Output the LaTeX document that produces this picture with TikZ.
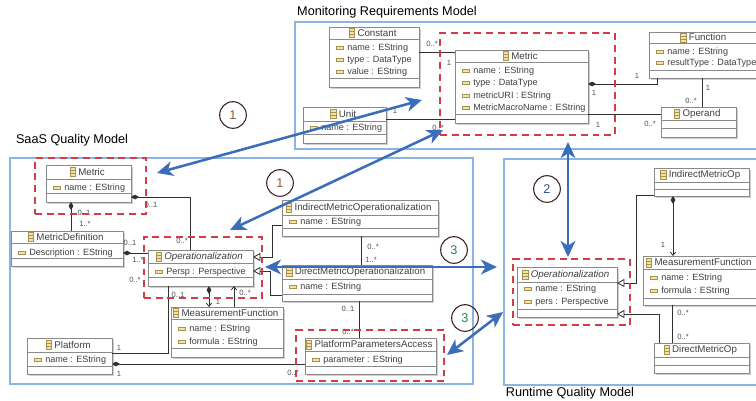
\documentclass[tikz,border=0pt]{standalone}
\usepackage{fontspec}
\setmainfont{Liberation Sans}
\usetikzlibrary{arrows.meta}
\definecolor{framec}{HTML}{8DB3E2}
\definecolor{redc}{HTML}{D23C46}
\definecolor{boxc}{HTML}{8A8A8A}
\definecolor{txtc}{HTML}{404040}
\definecolor{multc}{HTML}{505050}
\definecolor{linec}{HTML}{303030}
\definecolor{bluec}{HTML}{3A6DBA}
\definecolor{iconfill}{HTML}{F3E3A0}
\definecolor{iconline}{HTML}{A89050}
\definecolor{shadowc}{HTML}{CFCFCF}
\definecolor{circc}{HTML}{3A2020}
\definecolor{onec}{HTML}{8A5A2A}
\definecolor{twoc}{HTML}{2B4C9B}
\definecolor{threec}{HTML}{2E8050}
\tikzset{
  frame/.style={draw=framec, line width=0.8pt},
  reddash/.style={draw=redc, line width=1.2pt, dash pattern=on 5.2pt off 3.6pt, rectangle, inner sep=0, outer sep=0},
  clsbox/.style={draw=boxc, fill=white, line width=0.6pt, inner sep=0, outer sep=0, rectangle},
  sepl/.style={draw=boxc, line width=0.6pt},
  hdr/.style={font=\fontsize{7.3}{8}\selectfont, text=txtc, inner sep=0},
  atr/.style={font=\fontsize{6.8}{8}\selectfont, text=txtc, inner sep=0, anchor=west},
  mult/.style={font=\fontsize{5.7}{6}\selectfont, text=multc, inner sep=0},
  mtitle/.style={font=\fontsize{9.5}{11}\selectfont, text=black, inner sep=0},
  conn/.style={draw=linec, line width=0.6pt},
  comp/.style={conn, {Diamond[length=6pt,width=3.6pt]}-},
  compnav/.style={conn, {Diamond[length=6pt,width=3.6pt]}-{Straight Barb[length=2.5pt,width=4pt]}},
  navend/.style={conn, -{Straight Barb[length=2.5pt,width=4pt]}},
  gen/.style={conn, -{Triangle[open,length=5.5pt,width=6pt,fill=white]}},
  bigarrow/.style={draw=bluec, line width=1.9pt, {Stealth[length=12pt,width=11pt,inset=3.5pt]}-{Stealth[length=12pt,width=11pt,inset=3.5pt]}},
  num/.style={circle, draw=circc, line width=0.8pt, minimum size=20pt, inner sep=0, font=\fontsize{9.5}{10}\selectfont},
}
\newcount\attrcnt
\newcommand\clsicon[1]{%
  \draw[draw=iconline, fill=iconfill, line width=0.4pt] ([xshift=-6pt,yshift=-3.2pt]#1.west) rectangle ([xshift=-2pt,yshift=3.2pt]#1.west);
  \draw[draw=iconline, line width=0.4pt] ([xshift=-6pt,yshift=-1.1pt]#1.west) -- ([xshift=-2pt,yshift=-1.1pt]#1.west)
     ([xshift=-6pt,yshift=1.1pt]#1.west) -- ([xshift=-2pt,yshift=1.1pt]#1.west);
}
\newcommand\umlbox[8]{%
  \fill[shadowc] ({#2+1.6},{#3+1.6}) rectangle ({#4+1.6},{#5+1.6});
  \node[clsbox, minimum width={(#4-#2)*0.75pt}, minimum height={(#5-#3)*0.75pt}] (#1) at ({(#2+#4)/2},{(#3+#5)/2}) {};
  \draw[sepl] (#2,#6) -- (#4,#6);
  \draw[sepl] (#2,#7) -- (#4,#7);
  \node[hdr] (#1-t) at ({(#2+#4)/2+3},{(#3+#6)/2}) {#8};
  \clsicon{#1-t}
}
\newcommand\attr[3]{%
  \global\advance\attrcnt by 1
  \draw[draw=iconline, fill=iconfill, line width=0.4pt] ({#1+7},{#2-1.6}) rectangle ({#1+14},{#2+1.6});
  \node[atr] (at\the\attrcnt) at ({#1+18},#2) {#3};
}
\newcommand\redbox[5]{%
  \node[reddash, minimum width={(#4-#2)*0.75pt}, minimum height={(#5-#3)*0.75pt}] (#1) at ({(#2+#4)/2},{(#3+#5)/2}) {};
}
\newcommand\mul[4]{\node[mult] (#1) at (#2,#3) {#4};}
\begin{document}
\begin{tikzpicture}[x=0.75pt,y=-0.75pt]
\useasboundingbox (0,0) rectangle (756,400);
\clip (0,0) rectangle (756,400);

% frames and titles
\draw[frame] (295,22) rectangle (762,149);
\draw[frame] (10,158) rectangle (473,384);
\draw[frame] (504,159) rectangle (762,385);
\node[mtitle] (tmrm) at (387,12) {Monitoring Requirements Model};
\node[mtitle] (tsaas) at (72,140) {SaaS Quality Model};
\node[mtitle] (trt) at (570,393) {Runtime Quality Model};

% ---------- Monitoring Requirements Model ----------
\umlbox{cons}{329}{27}{419}{87}{39}{78}{Constant}
\attr{329}{48}{name : EString}
\attr{329}{60}{type : DataType}
\attr{329}{72}{value : EString}
\umlbox{unit}{303}{107}{386}{143}{121}{134}{Unit}
\attr{303}{128}{name : EString}
\umlbox{met}{455}{50}{588}{123}{62}{114}{Metric}
\attr{455}{71}{name : EString}
\attr{455}{83}{type : DataType}
\attr{455}{96}{metricURI : EString}
\attr{455}{108}{MetricMacroName : EString}
\umlbox{func}{649}{32}{760}{78}{43}{70}{Function}
\attr{649}{52}{name : EString}
\attr{649}{63}{resultType : DataType}
\umlbox{oper}{661}{107}{736}{137}{120}{128}{Operand}

\draw[conn] (cons.east |- 0,52) -- (met.west |- 0,52);
\mul{m1}{432}{44}{0..*}
\mul{m2}{449}{63}{1}
\draw[conn] (unit.east |- 0,119) -- (met.west |- 0,119);
\mul{m3}{395}{111}{1}
\mul{m4}{438}{128}{0..*}
\draw[comp] (met.east |- 0,84) -| (func.south -| 657,0);
\mul{m5}{637}{76}{1}
\mul{m6}{594}{93}{1}
\draw[conn] (met.east |- 0,114) -- (oper.west |- 0,114);
\mul{m7}{598}{125}{1}
\mul{m8}{650}{124}{0..*}
\draw[conn] (func.south -| 702,0) -- (oper.north -| 702,0);
\mul{m9}{708}{88}{1}
\mul{m10}{691}{101}{0..*}

% ---------- SaaS Quality Model ----------
\umlbox{smet}{46}{165}{131}{202}{179}{193}{Metric}
\attr{46}{188}{name : EString}
\umlbox{mdef}{11}{231}{123}{266}{243}{258}{MetricDefinition}
\attr{11}{253}{Description : EString}
\umlbox{sop}{148}{250}{253}{286}{263}{277}{\itshape Operationalization}
\attr{148}{272}{Persp : Perspective}
\umlbox{smf}{171}{307}{283}{357}{319}{348}{MeasurementFunction}
\attr{171}{329}{name : EString}
\attr{171}{342}{formula : EString}
\umlbox{plat}{27}{338}{112}{374}{352}{366}{Platform}
\attr{27}{360}{name : EString}
\umlbox{ppa}{305}{338}{436}{374}{351}{366}{PlatformParametersAccess}
\attr{305}{360}{parameter : EString}
\umlbox{imo}{282}{200}{438}{236}{215}{228}{IndirectMetricOperationalization}
\attr{282}{222}{name : EString}
\umlbox{dmo}{282}{265}{432}{301}{279}{294}{DirectMetricOperationalization}
\attr{282}{287}{name : EString}

\draw[comp] (smet.east |- 0,197) -| (sop.north -| 190,0);
\mul{m11}{151}{205}{0..1}
\mul{m12}{182}{241}{0..*}
\draw[comp] (smet.south -| 71,0) -- (mdef.north -| 71,0);
\mul{m13}{84}{213}{0..1}
\mul{m14}{85}{224}{1..*}
\draw[comp] (mdef.east |- 0,253) -- (sop.west |- 0,253);
\mul{m15}{130}{243}{0..1}
\mul{m16}{138}{260}{1..*}
\mul{m17}{135}{280}{0..*}
\draw[compnav] (sop.south -| 209,0) -- (smf.north -| 209,0);
\mul{m18}{218}{302}{1}
\draw[navend] (smf.north -| 234,0) -- (sop.south -| 234,0);
\mul{m19}{245}{293}{0..*}
\draw[conn] (sop.south -| 168,0) |- (plat.east |- 0,353);
\mul{m20}{178}{295}{0..1}
\mul{m21}{119}{348}{1}
\draw[comp] (plat.east |- 0,364) -- (ppa.west |- 0,364);
\mul{m22}{119}{374}{1}
\mul{m23}{293}{373}{0..*}
\draw[gen] (imo.west |- 0,225) -- (272,225) |- (sop.east |- 0,257);
\draw[gen] (dmo.west |- 0,295) -- (270,295) |- (sop.east |- 0,271);
\draw[conn] (imo.south -| 361,0) -- (dmo.north -| 361,0);
\mul{m24}{373}{247}{0..*}
\mul{m25}{371}{260}{1..*}
\draw[conn] (dmo.south -| 359,0) -- (ppa.north -| 359,0);
\mul{m26}{348}{309}{0..1}
\mul{m27}{348}{332}{0..*}

% ---------- Runtime Quality Model ----------
\umlbox{rimo}{654}{168}{749}{196}{182}{189}{IndirectMetricOp}
\umlbox{rmf}{643}{256}{757}{305}{269}{298}{MeasurementFunction}
\attr{643}{278}{name : EString}
\attr{643}{291}{formula : EString}
\umlbox{rdmo}{654}{343}{749}{373}{357}{365}{DirectMetricOp}
\umlbox{rop}{517}{267}{617}{317}{282}{309}{\itshape Operationalization}
\attr{517}{289}{name : EString}
\attr{517}{302}{pers : Perspective}

\draw[gen] (rimo.west |- 0,195) -- (636,195) |- (rop.east |- 0,283);
\draw[gen] (rdmo.north -| 659,0) |- (rop.east |- 0,314);
\draw[compnav] (rimo.south -| 673,0) -- (rmf.north -| 673,0);
\mul{m28}{663}{245}{1}
\draw[conn] (rmf.south -| 672,0) -- (rdmo.north -| 672,0);
\mul{m29}{683}{313}{0..*}
\mul{m30}{683}{337}{0..*}

% ---------- red dashed highlight boxes ----------
\redbox{rmetR}{440}{33}{615}{135}
\redbox{smetR}{35}{158}{146}{214}
\redbox{sopR}{144}{237}{262}{298}
\redbox{ppaR}{296}{330}{444}{381}
\redbox{ropR}{513}{259}{630}{325}

% ---------- blue mapping arrows ----------
\coordinate (b1a) at (157,173);
\coordinate (b1b) at (422,100);
\coordinate (b2a) at (230,230);
\coordinate (b2b) at (443,130);
\coordinate (b3a) at (568,142);
\coordinate (b3b) at (568,257);
\coordinate (b4a) at (265,267);
\coordinate (b4b) at (497,267);
\coordinate (b5a) at (447,355);
\coordinate (b5b) at (503,312);
\draw[bigarrow] (b1a) -- (b1b);
\draw[bigarrow] (b2a) -- (b2b);
\draw[bigarrow] (b3a) -- (b3b);
\draw[bigarrow] (b4a) -- (b4b);
\draw[bigarrow] (b5a) -- (b5b);

\node[num, text=onec] (c1a) at (233,115) {1};
\node[num, text=onec] (c1b) at (280,183) {1};
\node[num, text=twoc] (c2) at (547,189) {2};
\node[num, text=threec] (c3a) at (454,250) {3};
\node[num, text=threec] (c3b) at (465,318) {3};
\end{tikzpicture}
\end{document}
